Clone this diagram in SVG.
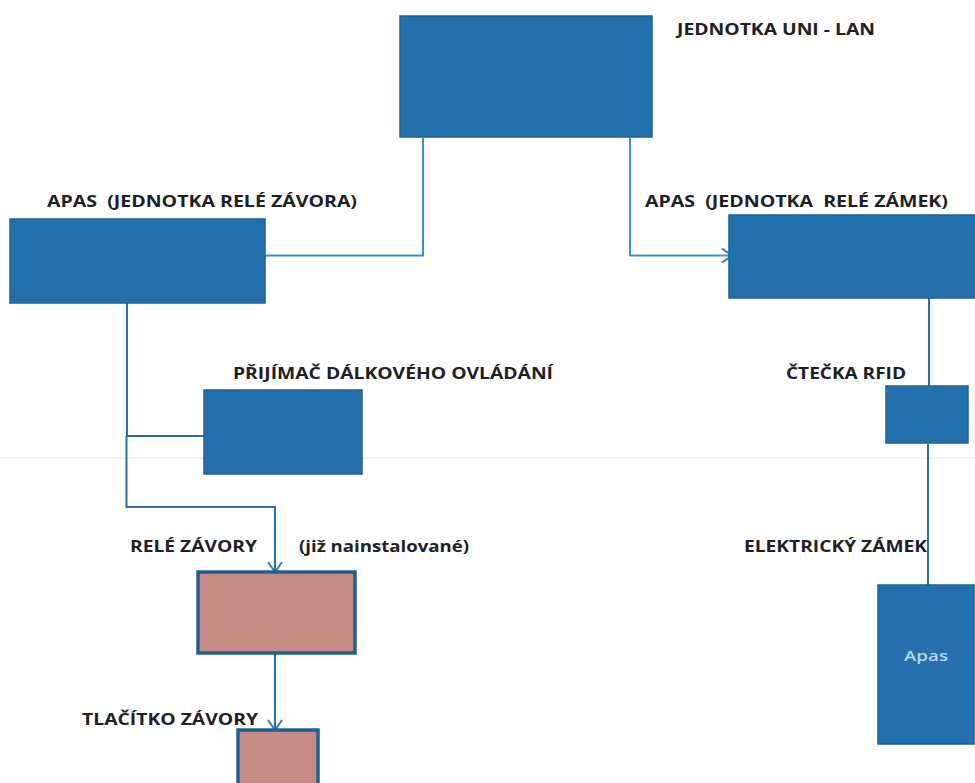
<svg xmlns="http://www.w3.org/2000/svg" width="975" height="783" viewBox="0 0 975 783">
<defs>
<style>
.b{fill:#2470ad;stroke:#1c6298;stroke-width:1.500}
.r{fill:#c58b84;stroke:#1f6091;stroke-width:3.500}
.c{fill:none;stroke:#3a93cc;stroke-width:2}
.d{fill:none;stroke:#2472a8;stroke-width:2}
.t{font-family:"Open Sans","Liberation Sans",sans-serif;font-weight:700;font-size:16px;fill:#1d2126}
</style>
<marker id="v" markerUnits="userSpaceOnUse" markerWidth="18" markerHeight="18" refX="16" refY="9" orient="auto"><path d="M6 2L16 9L6 16" fill="none" stroke="#2a7fb5" stroke-width="2"/></marker>
</defs>
<rect width="975" height="783" fill="#fff"/>
<line x1="0" y1="458" x2="975" y2="458" stroke="#efe6da" stroke-width="1"/>
<g id="connectors">
<path class="c" d="M423 138V255.500H265"/>
<path class="c" d="M630 138V255.500H732" marker-end="url(#v)"/>
<path class="d" d="M127 303V436H204"/>
<path class="d" d="M126.500 436V507H275V572" marker-end="url(#v)"/>
<path class="d" d="M275 653V730" marker-end="url(#v)"/>
<path class="d" d="M929 298V386"/>
<path class="d" d="M928 444V585"/>
</g>
<g id="jednotka-uni-lan"><rect class="b" x="400" y="16" width="252" height="121"/><text class="t" x="677" y="35" textLength="198" lengthAdjust="spacingAndGlyphs">JEDNOTKA UNI - LAN</text></g>
<g id="apas-zavora"><rect class="b" x="10" y="219" width="255" height="84"/><text class="t" x="47" y="207" textLength="310" lengthAdjust="spacingAndGlyphs" xml:space="preserve">APAS  (JEDNOTKA RELÉ ZÁVORA)</text></g>
<g id="apas-zamek"><rect class="b" x="729" y="215" width="248" height="83"/><text class="t" x="645" y="207" textLength="303" lengthAdjust="spacingAndGlyphs" xml:space="preserve">APAS  (JEDNOTKA  RELÉ ZÁMEK)</text></g>
<g id="prijimac"><rect class="b" x="204" y="390" width="158" height="84"/><text class="t" x="233" y="379" textLength="320" lengthAdjust="spacingAndGlyphs">PŘIJÍMAČ DÁLKOVÉHO OVLÁDÁNÍ</text></g>
<g id="ctecka"><rect class="b" x="886" y="386" width="82" height="57"/><text class="t" x="786" y="379" textLength="120" lengthAdjust="spacingAndGlyphs">ČTEČKA RFID</text></g>
<g id="rele-zavory"><rect class="r" x="198" y="572" width="157" height="81"/><text class="t" x="130" y="552" textLength="127" lengthAdjust="spacingAndGlyphs">RELÉ ZÁVORY</text><text class="t" x="299" y="552" textLength="170" lengthAdjust="spacingAndGlyphs">(již nainstalované)</text></g>
<g id="tlacitko"><rect class="r" x="238" y="730" width="80" height="60"/><text class="t" x="82" y="725" textLength="176" lengthAdjust="spacingAndGlyphs">TLAČÍTKO ZÁVORY</text></g>
<g id="elektricky-zamek"><rect class="b" x="878" y="585" width="96" height="159"/><text class="t" x="744" y="552" textLength="183" lengthAdjust="spacingAndGlyphs">ELEKTRICKÝ ZÁMEK</text><text x="904" y="661" font-family="'Open Sans','Liberation Sans',sans-serif" font-size="15" font-weight="600" fill="#b9d6ea" textLength="44" lengthAdjust="spacingAndGlyphs">Apas</text></g>
</svg>
